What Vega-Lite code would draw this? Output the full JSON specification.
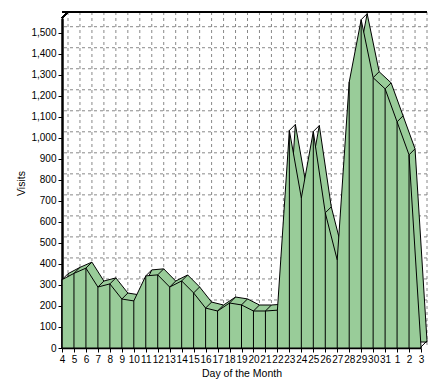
{
  "$schema": "https://vega.github.io/schema/vega-lite/v6.json",
  "autosize": "none",
  "width": 359,
  "height": 330,
  "padding": {"left": 62, "top": 18, "right": 19, "bottom": 43},
  "background": "white",
  "config": {
    "view": {"stroke": null},
    "font": "Liberation Sans",
    "axis": {"labelFont": "Liberation Sans", "titleFont": "Liberation Sans", "labelColor": "black", "titleColor": "black", "labelFontSize": 10, "titleFontSize": 10.5, "titleFontWeight": "normal", "domainColor": "black", "tickColor": "black", "grid": false, "labelOverlap": false}
  },
  "datasets": {
    "visits": [
      {"day": "4", "visits": 325}, {"day": "5", "visits": 355}, {"day": "6", "visits": 380},
      {"day": "7", "visits": 290}, {"day": "8", "visits": 305}, {"day": "9", "visits": 233},
      {"day": "10", "visits": 224}, {"day": "11", "visits": 343}, {"day": "12", "visits": 348},
      {"day": "13", "visits": 290}, {"day": "14", "visits": 319}, {"day": "15", "visits": 262},
      {"day": "16", "visits": 190}, {"day": "17", "visits": 176}, {"day": "18", "visits": 214},
      {"day": "19", "visits": 205}, {"day": "20", "visits": 176}, {"day": "21", "visits": 176},
      {"day": "22", "visits": 180}, {"day": "23", "visits": 1035}, {"day": "24", "visits": 714},
      {"day": "25", "visits": 1030}, {"day": "26", "visits": 643}, {"day": "27", "visits": 419},
      {"day": "28", "visits": 1265}, {"day": "29", "visits": 1562}, {"day": "30", "visits": 1286},
      {"day": "31", "visits": 1233}, {"day": "1", "visits": 1076}, {"day": "2", "visits": 919},
      {"day": "3", "visits": 5}
    ],
    "grid": [
      {"v": 0}, {"v": 100}, {"v": 200}, {"v": 300}, {"v": 400}, {"v": 500}, {"v": 600}, {"v": 700},
      {"v": 800}, {"v": 900}, {"v": 1000}, {"v": 1100}, {"v": 1200}, {"v": 1300}, {"v": 1400}, {"v": 1500}
    ]
  },
  "layer": [
    {
      "data": {"name": "grid"},
      "mark": {"type": "rule", "color": "#888888", "strokeDash": [3, 3], "strokeWidth": 1, "xOffset": 6, "yOffset": -6},
      "encoding": {"y": {"field": "v", "type": "quantitative", "scale": {"domain": [0, 1570], "nice": false},
        "axis": {"title": "Visits", "format": ",.0f", "values": [0,100,200,300,400,500,600,700,800,900,1000,1100,1200,1300,1400,1500], "tickSize": 4, "labelPadding": 2, "titlePadding": 4, "domainWidth": 2.5}}}
    },
    {
      "data": {"name": "visits"},
      "mark": {"type": "rule", "color": "#888888", "strokeDash": [3, 3], "strokeWidth": 1, "xOffset": 6, "yOffset": -6},
      "encoding": {
        "x": {"field": "day", "type": "ordinal", "sort": null, "scale": {"type": "point", "padding": 0},
              "axis": {"title": "Day of the Month", "labelAngle": 0, "tickSize": 4, "labelPadding": 2, "titlePadding": 4, "domainWidth": 1.5}}
      }
    },
    {
      "data": {"name": "visits"},
      "mark": {"type": "area", "fill": "#99cc99", "stroke": "black", "strokeWidth": 1, "opacity": 1, "xOffset": 6, "yOffset": -6},
      "encoding": {
        "x": {"field": "day", "type": "ordinal", "sort": null},
        "y": {"field": "visits", "type": "quantitative", "axis": {"title": "Visits", "format": ",.0f", "values": [0,100,200,300,400,500,600,700,800,900,1000,1100,1200,1300,1400,1500], "tickSize": 4, "labelPadding": 2, "titlePadding": 4, "domainWidth": 2.5}}
      }
    },
    {
      "data": {"name": "visits"},
      "mark": {"type": "rule", "color": "black", "strokeWidth": 1, "x2Offset": 6, "y2Offset": -6},
      "encoding": {
        "x": {"field": "day", "type": "ordinal", "sort": null},
        "y": {"field": "visits", "type": "quantitative", "axis": {"title": "Visits", "format": ",.0f", "values": [0,100,200,300,400,500,600,700,800,900,1000,1100,1200,1300,1400,1500], "tickSize": 4, "labelPadding": 2, "titlePadding": 4, "domainWidth": 2.5}},
        "x2": {"field": "day"},
        "y2": {"field": "visits"}
      }
    },
    {
      "data": {"name": "visits"},
      "mark": {"type": "area", "fill": "#99cc99", "stroke": "black", "strokeWidth": 1, "opacity": 1},
      "encoding": {
        "x": {"field": "day", "type": "ordinal", "sort": null},
        "y": {"field": "visits", "type": "quantitative", "axis": {"title": "Visits", "format": ",.0f", "values": [0,100,200,300,400,500,600,700,800,900,1000,1100,1200,1300,1400,1500], "tickSize": 4, "labelPadding": 2, "titlePadding": 4, "domainWidth": 2.5}}
      }
    },
    {
      "data": {"name": "visits"},
      "mark": {"type": "rule", "color": "black", "strokeWidth": 1},
      "encoding": {
        "x": {"field": "day", "type": "ordinal", "sort": null},
        "y": {"field": "visits", "type": "quantitative", "axis": {"title": "Visits", "format": ",.0f", "values": [0,100,200,300,400,500,600,700,800,900,1000,1100,1200,1300,1400,1500], "tickSize": 4, "labelPadding": 2, "titlePadding": 4, "domainWidth": 2.5}},
        "y2": {"datum": 0}
      }
    },
    {
      "data": {"name": "visits"},
      "mark": {"type": "rule", "color": "black", "strokeWidth": 1.5, "xOffset": 6, "yOffset": -6},
      "encoding": {"y": {"datum": 1570, "type": "quantitative", "axis": {"title": "Visits", "format": ",.0f", "values": [0,100,200,300,400,500,600,700,800,900,1000,1100,1200,1300,1400,1500], "tickSize": 4, "labelPadding": 2, "titlePadding": 4, "domainWidth": 2.5}}}
    },
    {
      "data": {"name": "visits"},
      "mark": {"type": "rule", "color": "black", "strokeWidth": 1.5, "x2Offset": 6, "y2Offset": -6},
      "encoding": {
        "x": {"datum": "4", "type": "ordinal"},
        "y": {"datum": 1570, "type": "quantitative", "axis": {"title": "Visits", "format": ",.0f", "values": [0,100,200,300,400,500,600,700,800,900,1000,1100,1200,1300,1400,1500], "tickSize": 4, "labelPadding": 2, "titlePadding": 4, "domainWidth": 2.5}},
        "x2": {"datum": "4"},
        "y2": {"datum": 1570}
      }
    }
  ]
}
